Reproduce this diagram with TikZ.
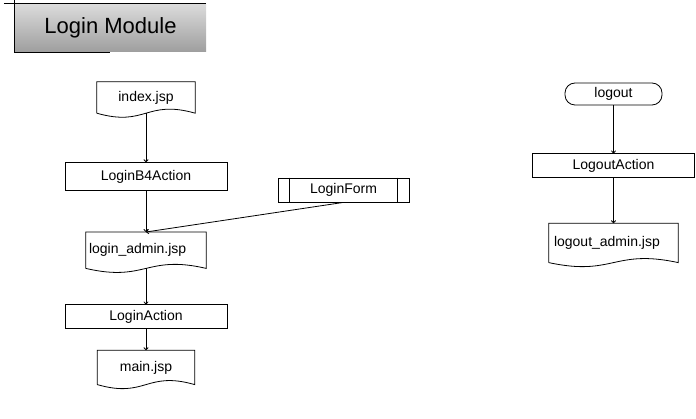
\documentclass[tikz,border=0pt]{standalone}
\usepackage{fontspec}
\setmainfont{Liberation Sans}
\usetikzlibrary{arrows.meta,positioning,calc}

\begin{document}
\begin{tikzpicture}[
  x=1pt,y=-1pt,
  every node/.style={font=\fontsize{14}{16}\selectfont,inner sep=0pt},
  headbox/.style={top color=black!14,bottom color=black!38,minimum width=191pt,minimum height=48pt,font=\fontsize{22}{26}\selectfont},
  act/.style={draw,line width=0.8pt,minimum width=162pt,minimum height=24pt},
  doc/.style={minimum height=34pt},
  docl/.style={doc,align=left,inner xsep=3pt},
  term/.style={draw,line width=0.8pt,rounded corners=10pt,minimum width=97pt,minimum height=22pt},
  arr/.style={-{To[length=3pt,width=5pt]},line width=0.8pt}
]
\useasboundingbox (0,0) rectangle (696,419);
% title
\node[headbox] (head) at (110.5,28) {Login Module};
\draw[line width=0.8pt] ([xshift=-11pt]head.north west) -- (head.north east);
\draw[line width=0.8pt] ([yshift=4pt]head.north west) -- (head.south west) -- ([xshift=95pt]head.south west);
% login flow
\node[doc,minimum width=98pt,minimum height=31pt] (index) at (146,97.5) {index.jsp};
\node[act,minimum height=28pt,below=49pt of index] (loginb4) {LoginB4Action};
\node[docl,text width=114pt,minimum height=36pt,below=41pt of loginb4] (loginadmin) {login\_admin.jsp};
\node[act,below=36pt of loginadmin] (loginaction) {LoginAction};
\node[doc,minimum width=97pt,below=21pt of loginaction] (mainjsp) {main.jsp};
\node[act,minimum width=131pt] (loginform) at (343.5,190) {LoginForm};
\draw[line width=0.8pt] ([xshift=12pt]loginform.north west) -- ([xshift=12pt]loginform.south west)
  ([xshift=-12pt]loginform.north east) -- ([xshift=-12pt]loginform.south east);
% logout flow
\node[term] (logout) at (613.5,94) {logout};
\node[act,below=48pt of logout] (logoutaction) {LogoutAction};
\node[docl,text width=119pt,inner xsep=5pt,minimum height=39pt,below=45pt of logoutaction] (logoutadmin) {logout\_admin.jsp};
% document outlines
\foreach \n in {index,loginadmin,mainjsp,logoutadmin}
  \draw[line width=0.8pt] (\n.south west) -- (\n.north west) -- (\n.north east) -- (\n.south east)
    .. controls ($(\n.south west)!0.5!(\n.south east)+(0,-14)$) and ($(\n.south west)!0.5!(\n.south east)+(0,14)$) .. (\n.south west);
\draw[arr] (index) -- (loginb4);
\draw[arr] (loginb4) -- (loginadmin);
\draw[arr] (loginform.south) -- (loginadmin.north);
\draw[arr] (loginadmin) -- (loginaction);
\draw[arr] (loginaction) -- (mainjsp);
\draw[arr] (logout) -- (logoutaction);
\draw[arr] (logoutaction) -- (logoutadmin);
\end{tikzpicture}
\end{document}
